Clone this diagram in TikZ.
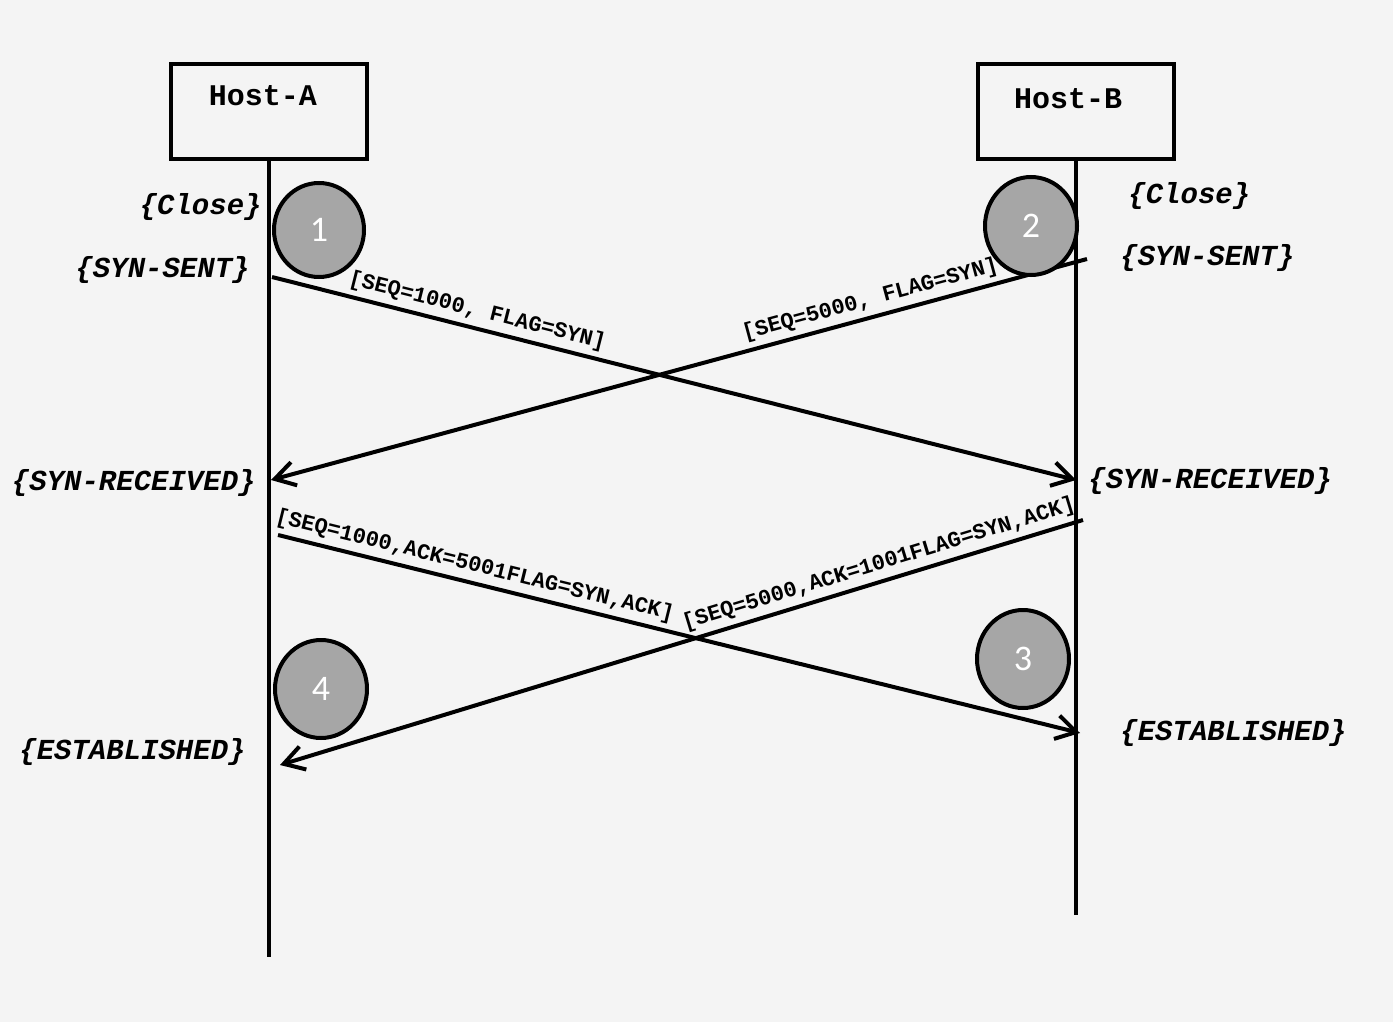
\documentclass[tikz,border=0pt]{standalone}
\usepackage{fontspec}
\setmonofont{Liberation Mono}
\newfontfamily\numfont{Carlito}
\usetikzlibrary{arrows.meta,shapes.geometric}
\definecolor{bgcol}{HTML}{F4F4F4}
\definecolor{circfill}{HTML}{A6A6A6}
\begin{document}
\begin{tikzpicture}[x=0.5pt,y=-0.5pt,
  hostbox/.style={draw, line width=2pt, minimum width=98pt, minimum height=47.5pt,
    font=\ttfamily\bfseries\fontsize{15}{18}\selectfont, text height=10pt, text depth=16pt, inner sep=0pt},
  lifeline/.style={line width=2pt},
  msg/.style={line width=2pt, -{Straight Barb[length=10pt,width=12pt]}},
  msglabel/.style={sloped, above, font=\ttfamily\bfseries\fontsize{11}{13}\selectfont, inner sep=2.5pt},
  stateL/.style={anchor=east, font=\ttfamily\bfseries\itshape\fontsize{14.5}{17}\selectfont, inner sep=0pt},
  stateR/.style={anchor=west, font=\ttfamily\bfseries\itshape\fontsize{14.5}{17}\selectfont, inner sep=0pt},
  stepmark/.style={ellipse, draw, line width=2pt, fill=circfill, minimum width=46pt, minimum height=49pt,
    text=white, font=\numfont\fontsize{18}{20}\selectfont, inner sep=0pt}
]
\useasboundingbox (0,0) rectangle (1393,1022);
\fill[bgcol] (0,0) rectangle (1393,1022);

% hosts
\node[hostbox] (hostA) at (269,111.5) {Host-A\kern6pt};
\node[hostbox, text height=11.5pt, text depth=14.5pt] (hostB) at (1076,111.5) {Host-B\kern8pt};

% lifeline ends
\coordinate (Aend) at (269,957);
\coordinate (Bend) at (1076,915);
\draw[lifeline] (hostA.south) -- (Aend);
\draw[lifeline] (hostB.south) -- (Bend);

% message end points
\coordinate (m1s) at (272,277);
\coordinate (m1e) at (1076,480);
\coordinate (m2s) at (1087,259);
\coordinate (m2e) at (271,480);
\coordinate (m3s) at (278,535);
\coordinate (m3e) at (1080,733);
\coordinate (m4s) at (1083,520);
\coordinate (m4e) at (280,765);

\draw[msg] (m1s) -- node[msglabel, pos=0.25] (l1) {[SEQ=1000, FLAG=SYN]} (m1e);
\draw[msg] (m2s) -- node[msglabel, pos=0.26] (l2) {[SEQ=5000, FLAG=SYN]} (m2e);
\draw[msg] (m3s) -- node[msglabel, pos=0.24] (l3) {[SEQ=1000,ACK=5001FLAG=SYN,ACK]} (m3e);
\draw[msg] (m4s) -- node[msglabel, pos=0.248] (l4) {[SEQ=5000,ACK=1001FLAG=SYN,ACK]} (m4e);

% step markers
\node[stepmark, minimum width=45pt, minimum height=47pt] (c1) at (319,230) {1};
\node[stepmark] (c2) at (1031,226) {2};
\node[stepmark] (c3) at (1023,659) {3};
\node[stepmark] (c4) at (321,689) {4};

% states host A
\node[stateL] (sA1) at (262,207) {\{Close\}};
\node[stateL] (sA2) at (250,270) {\{SYN-SENT\}};
\node[stateL] (sA3) at (256,483) {\{SYN-RECEIVED\}};
\node[stateL] (sA4) at (246,752) {\{ESTABLISHED\}};
% states host B
\node[stateR] (sB1) at (1128,196) {\{Close\}};
\node[stateR] (sB2) at (1120,258) {\{SYN-SENT\}};
\node[stateR] (sB3) at (1088,481) {\{SYN-RECEIVED\}};
\node[stateR] (sB4) at (1120,733) {\{ESTABLISHED\}};
\end{tikzpicture}
\end{document}
